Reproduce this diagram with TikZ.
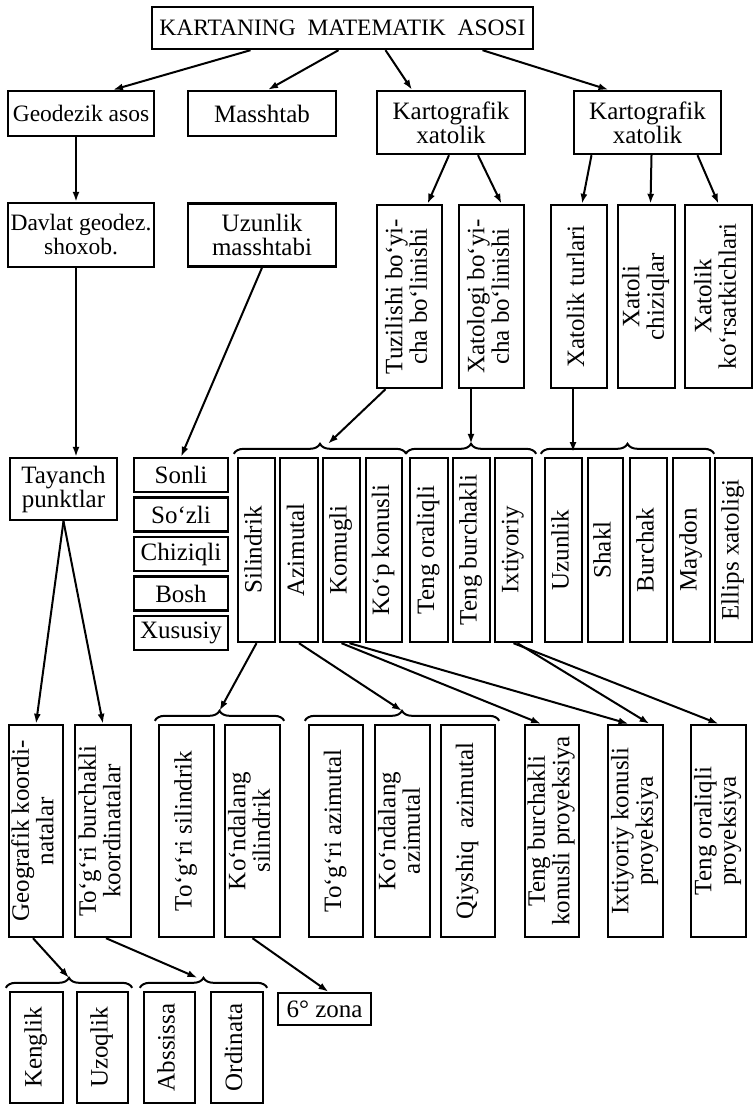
\documentclass[tikz,border=0pt]{standalone}
\usepackage{fontspec}
\setmainfont{Liberation Serif}
\usepackage{graphicx}
\usetikzlibrary{arrows.meta, decorations.pathreplacing}
\tikzstyle{chart} = [x = 1pt, y = -1pt, font=\fontsize{25}{24}\selectfont]
\tikzstyle{boxStyle} = [draw=black, line width=2.4pt, inner sep=0pt, align=center]
\tikzstyle{smallText} = [font=\fontsize{23.5}{24}\selectfont]
\tikzstyle{arrowStyle} = [line width=2pt, -{Latex[length=10pt, width=7pt]}]
\tikzstyle{braceStyle} = [line width=2pt, decorate, decoration={brace, amplitude=10pt}]
\newcommand{\flatBox}[7][]{\node [boxStyle, #1, minimum width=#5pt, minimum height=#6pt] (#2) at (#3, #4) {#7};}
\newcommand{\sideBox}[6]{\node [boxStyle, minimum width=#4pt, minimum height=#5pt] (#1) at (#2, #3) {\rotatebox{90}{\begin{tabular}{@{}c@{}}#6\end{tabular}}};}
\newcommand{\groupBrace}[3]{\draw [braceStyle] ([xshift=-3pt, yshift=3pt]#1.north west) -- coordinate [yshift=10pt] (#3) ([xshift=3pt, yshift=3pt]#2.north east);}

\begin{document}
\begin{tikzpicture}[chart]
\useasboundingbox (0,0) rectangle (753,1105);
% top levels
\flatBox[smallText]{title}{342.5}{28}{381}{42}{KARTANING~ MATEMATIK~ ASOSI}
\flatBox[smallText]{geoAsos}{81}{113.5}{146}{45}{Geodezik asos}
\flatBox{masshtab}{262}{113.5}{148}{45}{Masshtab}
\flatBox{kartA}{451}{122.5}{148}{63}{Kartografik\\xatolik}
\flatBox{kartB}{647.5}{122.5}{147}{63}{Kartografik\\xatolik}
\flatBox[smallText]{davlat}{81}{235}{146}{64}{Davlat geodez.\\shoxob.}
\flatBox{uzunMass}{262}{235}{148}{63}{Uzunlik\\masshtabi}
\sideBox{tuzil}{409.5}{296.5}{65}{183}{Tuzilishi bo‘yi-\\cha bo‘linishi}
\sideBox{xatol}{491.5}{296.5}{65}{183}{Xatologi bo‘yi-\\cha bo‘linishi}
\sideBox{turlar}{579}{296.5}{56}{183}{Xatolik turlari}
\sideBox{chiziq}{646.5}{296.5}{57}{183}{Xatoli\\chiziqlar}
\sideBox{korsat}{718.5}{296.5}{67}{183}{Xatolik\\ko‘rsatkichlari}
% middle row
\flatBox{tayanch}{63.5}{489}{107}{62}{Tayanch\\punktlar}
\flatBox{sonli}{181}{475}{94}{34}{Sonli}
\flatBox{sozli}{181}{514.5}{94}{34}{So‘zli}
\flatBox{chiziqli}{181}{554}{94}{34}{Chiziqli}
\flatBox{bosh}{181}{593.5}{94}{34}{Bosh}
\flatBox{xususiy}{181}{633}{94}{34}{Xususiy}
\sideBox{silindr}{256.5}{550}{37}{184}{Silindrik}
\sideBox{azimut}{299}{550}{38}{184}{Azimutal}
\sideBox{komugli}{341.5}{550}{37}{184}{Komugli}
\sideBox{kopKonus}{384}{550}{36}{184}{Ko‘p konusli}
\sideBox{tengOral}{429}{550}{38}{184}{Teng oraliqli}
\sideBox{tengBurch}{471.5}{550}{37}{184}{Teng burchakli}
\sideBox{ixtiyor}{513.5}{550}{37}{184}{Ixtiyoriy}
\sideBox{uzunlik}{563.5}{550}{37}{184}{Uzunlik}
\sideBox{shakl}{605.5}{550}{35}{184}{Shakl}
\sideBox{burchak}{648.5}{550}{37}{184}{Burchak}
\sideBox{maydon}{691.5}{550}{37}{184}{Maydon}
\sideBox{ellips}{733.5}{550}{37}{184}{Ellips xatoligi}
% lower row
\sideBox{geograf}{36}{831}{54}{212}{Geografik koordi-\\natalar}
\sideBox{togriKoord}{103}{831}{56}{212}{To‘g‘ri burchakli\\koordinatalar}
\sideBox{togriSil}{186.5}{831}{55}{212}{To‘g‘ri silindrik}
\sideBox{kondSil}{252.5}{831}{55}{212}{Ko‘ndalang\\silindrik}
\sideBox{togriAz}{336}{831}{54}{212}{To‘g‘ri azimutal}
\sideBox{kondAz}{402.5}{831}{55}{212}{Ko‘ndalang\\azimutal}
\sideBox{qiyshAz}{468}{831}{54}{212}{Qiyshiq~ azimutal}
\sideBox{burchProj}{552}{831}{54}{212}{Teng burchakli\\konusli proyeksiya}
\sideBox{ixtProj}{635.5}{831}{55}{212}{Ixtiyoriy konusli\\proyeksiya}
\sideBox{oralProj}{718.5}{831}{55}{212}{Teng oraliqli\\proyeksiya}
% bottom row
\sideBox{kenglik}{36.5}{1047.5}{53}{111}{Kenglik}
\sideBox{uzoqlik}{102.5}{1047.5}{51}{111}{Uzoqlik}
\sideBox{abssissa}{169.5}{1047.5}{51}{111}{Abssissa}
\sideBox{ordinata}{237}{1047.5}{52}{111}{Ordinata}
\flatBox{zona}{324.5}{1009}{93}{32}{6° zona}
% braces
\groupBrace{silindr}{kopKonus}{projTip}
\groupBrace{tengOral}{ixtiyor}{errTip}
\groupBrace{uzunlik}{maydon}{typeTip}
\groupBrace{togriSil}{kondSil}{silTip}
\groupBrace{togriAz}{qiyshAz}{azTip}
\groupBrace{kenglik}{uzoqlik}{geoTip}
\groupBrace{abssissa}{ordinata}{rectTip}
\coordinate (typeHit) at (573, 452);
% arrows
\draw [arrowStyle] ([xshift=-92pt]title.south) -- ([xshift=32pt]geoAsos.north);
\draw [arrowStyle] ([xshift=-4pt]title.south) -- ([xshift=6pt]masshtab.north);
\draw [arrowStyle] ([xshift=43pt]title.south) -- ([xshift=-39pt]kartA.north);
\draw [arrowStyle] ([xshift=140pt]title.south) -- ([xshift=-39pt]kartB.north);
\draw [arrowStyle] ([xshift=-2pt]kartA.south) -- ([xshift=18pt]tuzil.north);
\draw [arrowStyle] ([xshift=27pt]kartA.south) -- ([xshift=10pt]xatol.north);
\draw [arrowStyle] ([xshift=-56pt]kartB.south) -- ([xshift=3pt]turlar.north);
\draw [arrowStyle] ([xshift=4pt]kartB.south) -- ([xshift=4pt]chiziq.north);
\draw [arrowStyle] ([xshift=50pt]kartB.south) -- (korsat.north);
\draw [arrowStyle] ([xshift=-5pt]geoAsos.south) -- ([xshift=-5pt]davlat.north);
\draw [arrowStyle] ([xshift=-5pt]davlat.south) -- ([xshift=-5pt]davlat.south |- tayanch.north);
\draw [arrowStyle] (uzunMass.south) -- (sonli.north);
\draw [arrowStyle] ([xshift=-24pt]tuzil.south) -- ([xshift=8pt]projTip);
\draw [arrowStyle] (xatol.south -| errTip) -- (errTip);
\draw [arrowStyle] ([xshift=-6pt]turlar.south) -- (typeHit);
\draw [arrowStyle] (tayanch.south) -- (geograf.north);
\draw [arrowStyle] (tayanch.south) -- (togriKoord.north);
\draw [arrowStyle] (silindr.south) -- (silTip);
\draw [arrowStyle] (azimut.south) -- (azTip);
\draw [arrowStyle] (komugli.south) -- ([xshift=-11pt]burchProj.north);
\draw [arrowStyle] ([xshift=8pt]komugli.south) -- ([xshift=-7pt]ixtProj.north);
\draw [arrowStyle] ([xshift=4pt]ixtiyor.south) -- ([xshift=14pt]ixtProj.north);
\draw [arrowStyle] (ixtiyor.south) -- (oralProj.north);
\draw [arrowStyle] ([xshift=-3pt]geograf.south) -- (geoTip);
\draw [arrowStyle] ([xshift=3pt]togriKoord.south) -- ([xshift=-6pt]rectTip);
\draw [arrowStyle] (kondSil.south) -- ([xshift=4pt]zona.north);
\end{tikzpicture}
\end{document}
